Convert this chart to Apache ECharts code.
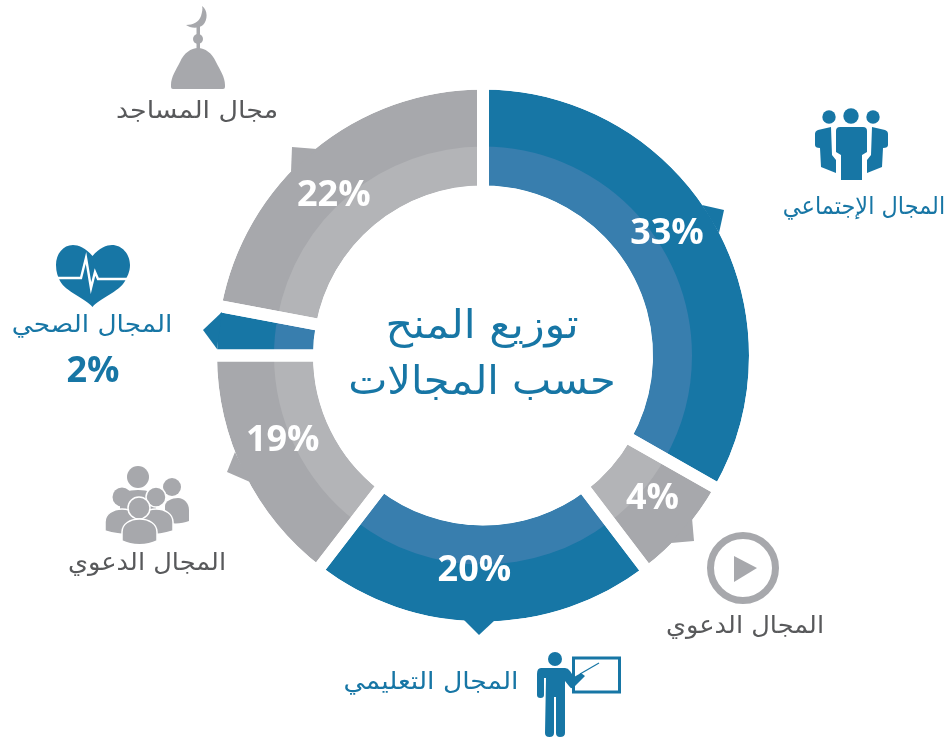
<!DOCTYPE html>
<html>
<head>
<meta charset="utf-8">
<style>
  html, body { margin: 0; padding: 0; background: #fff; }
  #chart { width: 949px; height: 740px; }
</style>
<script src="https://cdn.jsdelivr.net/npm/echarts@6/dist/echarts.min.js"></script>
</head>
<body>
<div id="chart"></div>
<script>
var categories = ['المجال الإجتماعي', 'المجال الدعوي', 'المجال التعليمي', 'المجال الدعوي', 'المجال الصحي', 'مجال المساجد'];
var percentLabels = ['33%', '4%', '20%', '19%', '2%', '22%'];
// slice sizes as drawn in the picture (degrees), they do not follow the printed percentages
var arcSizes = [119.6, 23.1, 74.9, 52.4, 10.6, 79.4];
var titleLines = ['توزيع المنح', 'حسب المجالات'];

var BLUE = '#1776a5', BLUE_LIGHT = '#387eae', GREY = '#a7a8ac', GREY_LIGHT = '#b3b4b7', DARK_TEXT = '#58595b';
var outerColors = [BLUE, GREY, BLUE, GREY, BLUE, GREY];
var innerColors = [BLUE_LIGHT, GREY_LIGHT, BLUE_LIGHT, GREY_LIGHT, BLUE_LIGHT, GREY_LIGHT];
var labelOffsets = [[-7, -11], [3, -2], [-8, -6], [-2, -12], [-170, 37], [-8, 10]];
var labelColors = ['#fff', '#fff', '#fff', '#fff', BLUE, '#fff'];
var CENTER = [483, 355.5];
var ARABIC = '"DejaVu Sans", "Noto Sans", sans-serif';

function ring(radius, colors) {
    return {
        type: 'pie', radius: radius, center: CENTER, startAngle: 90, silent: true,
        label: { show: false }, labelLine: { show: false },
        data: arcSizes.map(function (v, i) {
            return { value: v, itemStyle: { color: colors[i] } };
        })
    };
}

function arabicText(text, x, y, color, size, stretch) {
    return {
        type: 'text', x: x, y: y, z: 10, scaleX: stretch,
        style: { text: text, fill: color, font: size + 'px ' + ARABIC, align: 'center', verticalAlign: 'middle' }
    };
}
// the graphic component has no plain path type, so each icon path is registered as a shape
var shapeCount = 0;
function shape(d, color, extra) {
    var name = 'iconShape' + (shapeCount++);
    echarts.graphic.registerShape(name, echarts.graphic.extendPath(d));
    return { type: name, z: 10, shape: {}, style: Object.assign({ fill: color }, extra || {}) };
}
var GAP = { stroke: '#fff', lineWidth: 1.5 };

var graphics = [
    // pointers on the slices
    shape('M702 205L724 210L719 233Z', BLUE),
    shape('M692 518L694 541L671 543Z', GREY),
    shape('M464 620L479 635L495 620Z', BLUE),
    shape('M235 452L227 472L250 482Z', GREY),
    shape('M222 312L203 330L217 349Z', BLUE),
    shape('M317 149L292 147L291 172Z', GREY),

    // social
    { type: 'circle', z: 10, shape: { cx: 829, cy: 117, r: 6.7 }, style: { fill: BLUE } },
    { type: 'circle', z: 10, shape: { cx: 851, cy: 116, r: 7.7 }, style: { fill: BLUE } },
    { type: 'circle', z: 10, shape: { cx: 873, cy: 117, r: 6.7 }, style: { fill: BLUE } },
    shape('M840 127L863 127Q867 127 867 131L867 152L862 155L862 180L841 180L841 155L836 152L836 131Q836 127 840 127Z', BLUE),
    shape('M831 127L818 130Q815 131 815 134L815 145Q815 148 820 148L821 167L836 173L836 160L832 155Z', BLUE),
    shape('M872 127L885 130Q888 131 888 134L888 145Q888 148 883 148L882 167L867 173L867 160L871 155Z', BLUE),

    // play
    { type: 'circle', z: 10, shape: { cx: 743, cy: 568, r: 32.5 }, style: { fill: 'none', stroke: GREY, lineWidth: 7 } },
    shape('M734 556L757 568L734 582Z', GREY),

    // teacher
    { type: 'circle', z: 10, shape: { cx: 555, cy: 659, r: 7 }, style: { fill: BLUE } },
    shape('M541 668L565 668Q568 668 570 671L574 677L581 673L585 676L573 688Q571 689 569 686L565 681L565 733Q565 737 560 737Q556 737 556 733L556 697L554 697L554 733Q554 737 549.5 737Q545 737 545 733L546 678L544 678L544 695Q544 698 540.5 698Q537 698 537 695L537 674Q537 668 541 668Z', BLUE),
    { type: 'rect', z: 10, shape: { x: 573.5, y: 658, width: 46, height: 34 }, style: { fill: 'none', stroke: BLUE, lineWidth: 3 } },
    { type: 'line', z: 10, shape: { x1: 580, y1: 674, x2: 599, y2: 663 }, style: { stroke: BLUE, lineWidth: 1.2 } },

    // outreach group
    { type: 'circle', z: 10, shape: { cx: 138, cy: 477, r: 11 }, style: { fill: GREY } },
    shape('M120 510L120 498C120 493 128 490 138 490C148 490 156 493 156 498L156 510Z', GREY),
    { type: 'circle', z: 10, shape: { cx: 172, cy: 487, r: 9 }, style: { fill: GREY } },
    shape('M165 522L165 506C165 501 172 498 178 498C184 498 189 503 189 510L189 521C182 524 172 524 165 522Z', GREY),
    { type: 'circle', z: 10, shape: { cx: 122, cy: 497, r: 9.5 }, style: { fill: GREY } },
    shape('M105 531L105 522C105 514 113 509 122 509C131 509 140 514 140 522L140 534C128 536 115 534 105 531Z', GREY, GAP),
    { type: 'circle', z: 10, shape: { cx: 156, cy: 497, r: 10 }, style: { fill: GREY, stroke: '#fff', lineWidth: 1.5 } },
    shape('M139 534L139 522C139 514 147 509 156 509C165 509 173 514 173 522L173 531C163 534 150 536 139 534Z', GREY, GAP),
    { type: 'circle', z: 10, shape: { cx: 139, cy: 508, r: 11 }, style: { fill: GREY, stroke: '#fff', lineWidth: 1.5 } },
    shape('M122 541L122 532C122 524 130 519 139.5 519C149 519 157 524 157 532L157 541C147 546 132 546 122 541Z', GREY, GAP),

    // health
    shape('M92.5 256C86 248 78 245 73 245C63 245 56 254 56 265C56 272 58 277 60 281C66 292 85 298 92.5 307C100 298 119 292 125 281C127 277 130 272 130 265C130 254 122 245 112 245C107 245 99 248 92.5 256Z', BLUE),
    { type: 'polyline', z: 11, shape: { points: [[55, 278], [81, 278], [86, 258], [91, 288], [95, 272], [98, 279], [131, 279]] }, style: { fill: 'none', stroke: '#fff', lineWidth: 2.4 } },

    // mosque
    shape('M171 85C171 77 176 70 180 62C184 53 191 48 198 48C205 48 212 53 216 62C220 70 225 77 225 85L225 87Q225 89 223 89L173 89Q171 89 171 87Z', GREY),
    { type: 'rect', z: 10, shape: { x: 196.5, y: 26, width: 3.5, height: 24 }, style: { fill: GREY } },
    { type: 'circle', z: 10, shape: { cx: 198, cy: 39, r: 5 }, style: { fill: GREY } },
    shape('M202 6C208 10 208 20 203 25C198 29 190 28 186 25C193 25 199 22 201 16C202 12 203 9 202 6Z', GREY),

    // texts
    arabicText(categories[0], 864, 208, BLUE, 24, 0.935),
    arabicText(categories[1], 745, 627, DARK_TEXT, 24, 1.07),
    arabicText(categories[2], 431, 683, BLUE, 24, 1.11),
    arabicText(categories[3], 147, 564, DARK_TEXT, 24, 1.07),
    arabicText(categories[4], 92, 326, BLUE, 24, 1.1),
    arabicText(categories[5], 197, 112, DARK_TEXT, 24, 1.12),
    arabicText(titleLines[0], 482, 328, BLUE, 40, 1.07),
    arabicText(titleLines[1], 482, 384, BLUE, 40, 1.04)
];

var chart = echarts.init(document.getElementById('chart'));
var overlay = ring([164, 272], []);
// white outlines on top make the parallel gaps between slices
overlay.label = { show: true, position: 'inside', fontFamily: '"Open Sans", sans-serif', fontWeight: 'bold', fontSize: 36 };
overlay.data = arcSizes.map(function (v, i) {
    return {
        value: v,
        itemStyle: { color: 'rgba(255,255,255,0)', borderColor: '#fff', borderWidth: 12 },
        label: { formatter: percentLabels[i], offset: labelOffsets[i], color: labelColors[i] }
    };
});

chart.setOption({
    animation: false,
    backgroundColor: '#fff',
    series: [ring([170, 266], outerColors), ring([170, 209], innerColors), overlay],
    graphic: graphics
});
</script>
</body>
</html>
